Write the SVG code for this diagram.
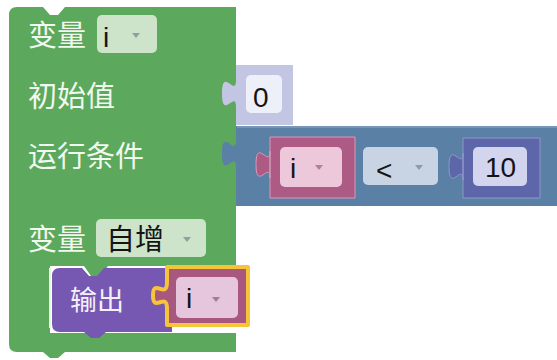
<svg xmlns="http://www.w3.org/2000/svg" width="557" height="360" viewBox="0 0 557 360">
<style>
.lbl{font-family:"Noto Sans CJK SC","Noto Sans",sans-serif;font-size:29px;fill:#f1f8ee}
.val{font-family:"Liberation Sans","Noto Sans CJK SC",sans-serif;font-size:28px;fill:#141414}
.cjk{font-family:"Noto Sans CJK SC",sans-serif;font-size:29px;fill:#141414}
.arr{fill:#5d6b7a;fill-opacity:0.55}
</style>
<rect width="557" height="360" fill="#ffffff"/>
<g id="loop">
<path d="M9,15 Q9,7 17,7 H43 l7,8 h8 l7,-8 H236 V266 H108 l-7,10 h-10 l-7,-10 H50 V333 H236 V352 H65 l-7,6 h-8 l-7,-6 H17 Q9,352 9,344 Z" fill="#5ca85c"/>
<path d="M50,268 V328" stroke="#e8f2e6" stroke-width="2" fill="none"/>
<text class="lbl" x="28" y="46">变量</text>
<rect x="97" y="15" width="60" height="38" rx="5" fill="#cde3ca"/>
<text class="val" x="103" y="47">i</text>
<polygon class="arr" points="132,33 140,33 136,38"/>
<text class="lbl" x="28" y="107">初始值</text>
<text class="lbl" x="28" y="167">运行条件</text>
<text class="lbl" x="28" y="250">变量</text>
<rect x="96" y="219" width="110" height="38" rx="5" fill="#cde3ca"/>
<text class="cjk" x="106" y="250">自增</text>
<polygon class="arr" points="183,237 191,237 187,242"/>
</g>
<g id="init">
<path d="M236,65 H293 V125 H236 V80 c0,18 -14,-14 -14,13.5 s14,-4.5 14,13.5 Z" fill="#c3c6e2"/>
<rect x="246" y="75" width="36" height="38" rx="5" fill="#eef0f9"/>
<text class="val" x="253" y="107">0</text>
</g>
<g id="compare">
<path d="M236,126 H557 V206 H236 V140 c0,18 -14,-14 -14,13.5 s14,-4.5 14,13.5 Z" fill="#5b80a6"/>
<path d="M237,127 H557" stroke="#7f9dbd" stroke-width="1.5"/>
<rect x="363" y="147" width="75" height="38" rx="5" fill="#c8d4e3"/>
<text class="val" x="376" y="180">&lt;</text>
<polygon class="arr" points="415,165 423,165 419,170"/>
</g>
<g id="var-i">
<path d="M270,137 H355 V198 H270 V151 c0,18 -14,-14 -14,13.5 s14,-4.5 14,13.5 Z" fill="#ad5a85" stroke="#d59bb8" stroke-width="1"/>
<rect x="280" y="147" width="62" height="40" rx="5" fill="#ecc8da"/>
<text class="val" x="290" y="178">i</text>
<polygon points="315,165 323,165 319,170" fill="#a0607e" fill-opacity="0.7"/>
</g>
<g id="num-10">
<path d="M463,138 H540 V198 H463 V153 c0,18 -14,-14 -14,13.5 s14,-4.5 14,13.5 Z" fill="#5d66a8" stroke="#8f97cc" stroke-width="1"/>
<rect x="473" y="147" width="54" height="39" rx="5" fill="#d3d5ee"/>
<text class="val" x="485" y="177">10</text>
</g>
<g id="print">
<path d="M52,276 Q52,268 60,268 H82 l7,8 h8 l7,-8 H172 V332 H106 l-7,6 h-8 l-7,-6 H60 Q52,332 52,324 Z" fill="#7658b2"/>
<text class="lbl" x="70" y="310" style="font-size:27px;fill:#f4f0fa">输出</text>
</g>
<g id="print-i">
<path d="M167,267 H248 V325 H167 V309 c0,-18 -14,4.5 -14,-13.5 s14,4.5 14,-13.5 Z" fill="#a8577f" stroke="#f6c438" stroke-width="4" stroke-linejoin="round"/>
<rect x="176" y="277" width="62" height="41" rx="5" fill="#e6c6dc"/>
<text class="val" x="186" y="308">i</text>
<polygon points="212,297 220,297 216,302" fill="#8a5a7a" fill-opacity="0.7"/>
</g>
</svg>
